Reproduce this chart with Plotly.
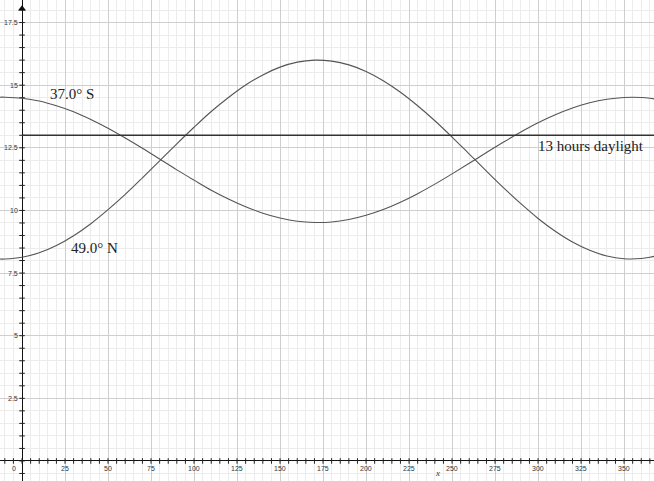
import plotly.graph_objects as go

# Day of year (x) and hours of daylight
days = [-13, -10, 0, 10, 20, 30, 40, 50, 60, 70, 80, 90, 100, 110, 120, 130, 140, 150,
        160, 170, 180, 190, 200, 210, 220, 230, 240, 250, 260, 270, 280, 290, 300,
        310, 320, 330, 340, 350, 360, 365, 370]
north_49 = [8.06, 8.06, 8.13, 8.31, 8.60, 8.99, 9.47, 10.03, 10.64, 11.30, 11.98, 12.66,
            13.32, 13.95, 14.51, 15.01, 15.41, 15.72, 15.92, 16.00, 15.96, 15.81, 15.55,
            15.18, 14.72, 14.18, 13.58, 12.93, 12.25, 11.57, 10.90, 10.27, 9.68, 9.17,
            8.74, 8.41, 8.18, 8.07, 8.08, 8.13, 8.21]
south_37 = [14.52, 14.52, 14.48, 14.37, 14.18, 13.94, 13.63, 13.28, 12.89, 12.48, 12.05,
            11.62, 11.21, 10.81, 10.46, 10.15, 9.89, 9.70, 9.57, 9.52, 9.54, 9.64, 9.81,
            10.04, 10.33, 10.67, 11.05, 11.46, 11.88, 12.31, 12.73, 13.13, 13.50, 13.82,
            14.09, 14.30, 14.44, 14.51, 14.51, 14.48, 14.42]
threshold_x = [0, 370]
threshold_y = [13, 13]

x_tick_vals = [0, 25, 50, 75, 100, 125, 150, 175, 200, 225, 250, 275, 300, 325, 350]
x_tick_text = ["0", "25", "50", "75", "100", "125", "150", "175", "200", "225", "250",
               "275", "300", "325", "350"]
y_tick_vals = [2.5, 5, 7.5, 10, 12.5, 15, 17.5]
y_tick_text = ["2.5", "5", "7.5", "10", "12.5", "15", "17.5"]

x_minor = [v * 5 for v in range(-2, 74)]
y_minor = [v * 0.5 for v in range(-1, 37)]

serif = "Liberation Serif, DejaVu Serif, serif"

fig = go.Figure()

# axis minor tick marks
fig.add_trace(go.Scatter(x=x_minor, y=[0] * len(x_minor), mode="markers",
                         marker=dict(symbol="line-ns-open", size=4, color="#222",
                                     line=dict(width=1, color="#222")),
                         hoverinfo="skip", showlegend=False))
fig.add_trace(go.Scatter(x=[0] * len(y_minor), y=y_minor, mode="markers",
                         marker=dict(symbol="line-ew-open", size=4, color="#222",
                                     line=dict(width=1, color="#222")),
                         hoverinfo="skip", showlegend=False))
# arrow at the top of y axis
fig.add_trace(go.Scatter(x=[0], y=[18.05], mode="markers",
                         marker=dict(symbol="triangle-up", size=7, color="#111"),
                         hoverinfo="skip", showlegend=False))

fig.add_trace(go.Scatter(x=days, y=south_37, mode="lines", line=dict(color="#555", width=1.1),
                         line_shape="spline", showlegend=False))
fig.add_trace(go.Scatter(x=days, y=north_49, mode="lines", line=dict(color="#555", width=1.1),
                         line_shape="spline", showlegend=False))
fig.add_trace(go.Scatter(x=threshold_x, y=threshold_y, mode="lines",
                         line=dict(color="#333", width=1.6), showlegend=False))

annotations = []
for v, t in zip(x_tick_vals, x_tick_text):
    annotations.append(dict(x=v if v != 0 else -4.5, y=-0.3, text=t, showarrow=False,
                            xanchor="center", yanchor="middle",
                            font=dict(size=7, color="#333", family="Liberation Sans, Arial")))
for v, t in zip(y_tick_vals, y_tick_text):
    annotations.append(dict(x=-1.2, y=v, text=t, showarrow=False, xanchor="right",
                            yanchor="middle",
                            font=dict(size=7, color="#333", family="Liberation Sans, Arial")))
annotations += [
    dict(x=29, y=14.65, text="37.0° S", showarrow=False, font=dict(size=15, color="#222", family=serif)),
    dict(x=42, y=8.5, text="49.0° N", showarrow=False, font=dict(size=15, color="#222", family=serif)),
    dict(x=331, y=12.57, text="13 hours daylight", showarrow=False,
         font=dict(size=15, color="#222", family=serif)),
    dict(x=241.3, y=-0.5, text="<i>x</i>", showarrow=False,
         font=dict(size=9, color="#333", family=serif)),
]

fig.update_layout(
    width=654, height=481,
    margin=dict(l=0, r=0, t=0, b=0),
    plot_bgcolor="white", paper_bgcolor="white",
    annotations=annotations,
    xaxis=dict(range=[-12.8, 367.4], dtick=25, tick0=0, showgrid=True, gridcolor="#cfcfcf",
               gridwidth=1, minor=dict(dtick=5, tick0=0, showgrid=True, gridcolor="#ececec"),
               showticklabels=False, ticks="", zeroline=True, zerolinecolor="#111",
               zerolinewidth=1.2, showline=False, fixedrange=True),
    yaxis=dict(range=[-0.8, 18.4], dtick=2.5, tick0=0, showgrid=True, gridcolor="#cfcfcf",
               gridwidth=1, minor=dict(dtick=0.5, tick0=0, showgrid=True, gridcolor="#ececec"),
               showticklabels=False, ticks="", zeroline=True, zerolinecolor="#111",
               zerolinewidth=1.2, showline=False, fixedrange=True),
)

fig.write_html("out.html", config={"displayModeBar": False},
               post_script="document.body.style.margin='0';document.body.style.overflow='hidden';")
